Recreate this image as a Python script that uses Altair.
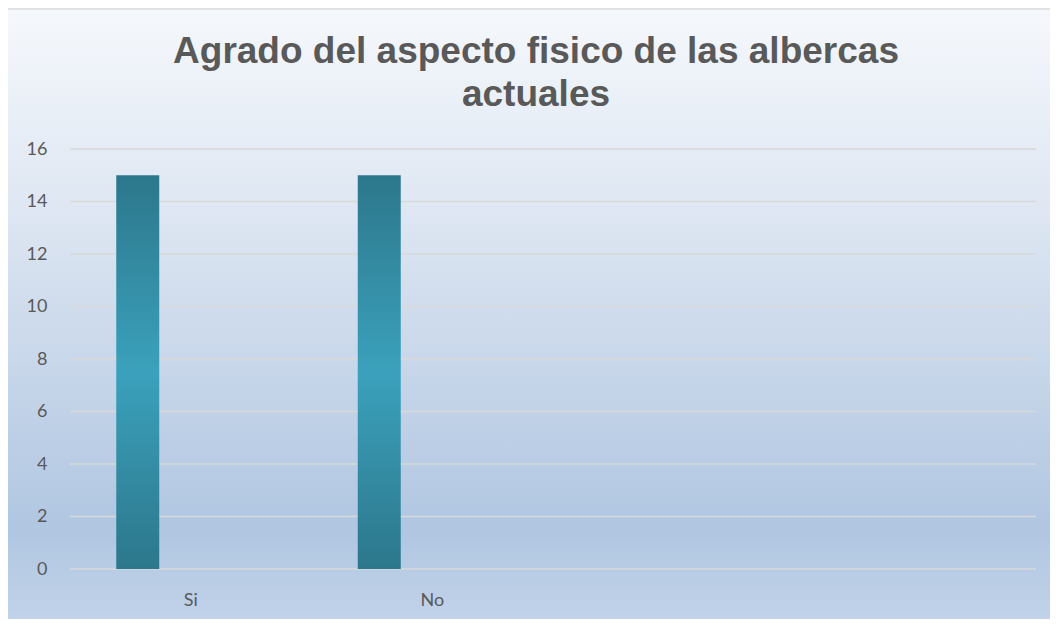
import altair as alt
import pandas as pd

categories = ["Si", "No"]
values = [15, 15]
axis_domain = ["Si", "No", " ", "  "]
y_ticks = [0, 2, 4, 6, 8, 10, 12, 14, 16]
title_lines = ["Agrado del aspecto fisico de las albercas", "actuales"]

df = pd.DataFrame({"cat": categories, "val": values})
grid_df = pd.DataFrame({"t": y_ticks})

W, H = 966, 420

bg = alt.Chart(pd.DataFrame({"a": [0]})).mark_rect(
    fill=alt.Gradient(
        gradient="linear", x1=0, x2=0, y1=0, y2=1,
        stops=[
            alt.GradientStop(offset=0, color="#f5f8fc"),
            alt.GradientStop(offset=0.3, color="#e0e8f3"),
            alt.GradientStop(offset=0.84, color="#b0c6e1"),
            alt.GradientStop(offset=1, color="#c3d4ea"),
        ],
    ),
    stroke="#d9d9d9", strokeWidth=1.5, clip=False,
).encode(
    x=alt.value(-70), x2=alt.value(W + 30),
    y=alt.value(-140), y2=alt.value(H + 60),
)

yscale = alt.Scale(domain=[0, 16], nice=False)
yaxis = alt.Axis(title=None, values=y_ticks, ticks=False, domain=False,
                 labelPadding=23, labelFontSize=18, labelFont="Lato",
                 labelColor="#595959", grid=False, zindex=1)

grid = alt.Chart(grid_df).mark_rule(color="#d9d9d9", strokeWidth=1.5).encode(
    y=alt.Y("t:Q", scale=yscale, axis=yaxis),
    x=alt.value(0), x2=alt.value(W),
)

bars = alt.Chart(df).mark_bar(
    width=43, xOffset=-53,
    fill=alt.Gradient(
        gradient="linear", x1=0, x2=0, y1=0, y2=1,
        stops=[
            alt.GradientStop(offset=0, color="#2c778b"),
            alt.GradientStop(offset=0.5, color="#3ba1bc"),
            alt.GradientStop(offset=1, color="#2c778b"),
        ],
    ),
).encode(
    x=alt.X("cat:N", sort=axis_domain,
            scale=alt.Scale(domain=axis_domain, paddingInner=0, paddingOuter=0),
            axis=alt.Axis(title=None, labelAngle=0, ticks=False, domain=False,
                          labelPadding=22, labelFontSize=18, labelFont="Lato",
                          labelColor="#595959", grid=False, zindex=1)),
    y=alt.Y("val:Q", scale=yscale, axis=yaxis),
)

chart = alt.layer(bg, grid, bars).properties(
    width=W, height=H,
    autosize="none",
    padding={"left": 62, "top": 141, "right": 14, "bottom": 50},
    title=alt.TitleParams(
        text=title_lines, font="Liberation Sans", fontSize=37, fontWeight="bold",
        color="#595959", anchor="middle", dx=-17, lineHeight=43,
        baseline="bottom", offset=-143, zindex=1, frame="group",
    ),
).configure_view(stroke=None).configure(background="white")

chart.save("out.html", embed_options={"renderer": "svg", "actions": False})
